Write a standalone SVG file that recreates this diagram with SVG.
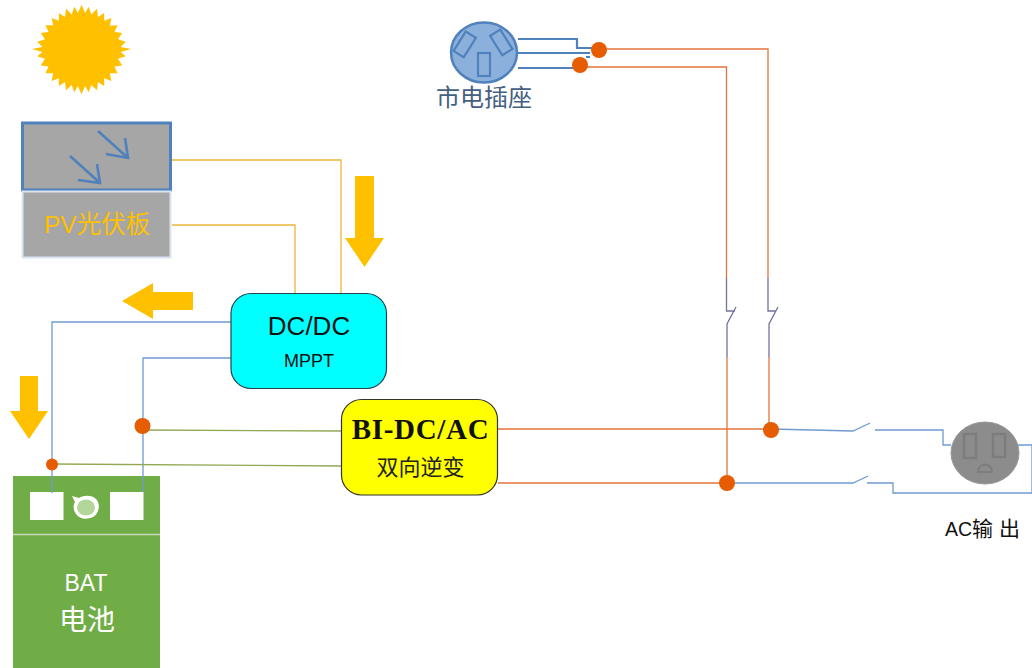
<svg xmlns="http://www.w3.org/2000/svg" width="1032" height="668" viewBox="0 0 1032 668">
<style>
.c{fill:none;stroke-width:1.3}
.y{stroke:#ecb53c}.b{stroke:#6f9bd1}.g{stroke:#93a855}.o{stroke:#e4733a}.v{stroke:#72729e}
.d{fill:#e65c00}
.arrow{fill:#ffc000}
.sans{font-family:"Liberation Sans","Noto Sans CJK SC",sans-serif}
.cjk{font-family:"Noto Sans CJK SC",sans-serif}
.grayp{fill:none;stroke:#7d7d7d;stroke-width:2.5}
.plug{fill:none;stroke:#4f81bd;stroke-width:2.2}
.ray{fill:none;stroke:#4f81bd;stroke-width:2.6}
</style>
<g id="sun"><polygon fill="#ffc000" transform="translate(81.500 49.500) scale(1.03) translate(-81 -49.500)" points="81,6 84.500,14 88,8 90.500,15.500 96,10 97,18 103,14 103,21.500 110,19 108.500,26.500 116,26 113,32.500 120.500,33.500 116.500,39.500 124,42 119,47 129,49 119,52 124,56 116.500,58.500 120.500,65 113,66 116,72.500 108.500,72.500 110,80 103,77.500 103,85 97,81 96,89 90.500,84 88,91 84.500,85 81,93 77.500,85 74,91 71.500,84 66,89 65,81 59,85 59,77.500 52,80 53.500,72.500 46,72.500 49,66 41.500,65 45.500,58.500 38,56 43,52 33,49 43,47 38,42 45.500,39.500 41.500,33.500 49,32.500 46,26 53.500,26 52,19 59,21.500 59,14 65,18 66,10 71.500,15.500 74,8 77.500,14"/></g>
<g id="battery">
<rect x="13" y="476" width="147" height="192" fill="#70ad47"/>
<path d="M13 534.500H160" stroke="#c5dcb5" stroke-width="1.500"/>
<rect x="30" y="492" width="33.500" height="28" fill="#fff"/>
<rect x="110" y="492" width="33.500" height="28" fill="#fff"/>
<path d="M72 496L79 498C84 495 92 495 96 499C101 504 99 514 93 517C87 520 79 519 76 514C73 510 73 505 75 502Z" fill="#fff"/>
<ellipse cx="86" cy="507.500" rx="9" ry="8" fill="#b3d69b"/>
<text class="sans" x="86" y="591" font-size="23" text-anchor="middle" fill="#fff">BAT</text>
<text class="cjk" x="87" y="630" font-size="28" text-anchor="middle" fill="#fff">电池</text>
</g>
<g id="connectors">
<path class="c y" d="M172 160H341V293M172 225H295V293"/>
<path class="c b" d="M231 322H52V493M231 358H143V492"/>
<path class="c g" d="M143 430L342 431M52 464L342 466"/>
<path class="c o" d="M498 429H771M498 483H727"/>
<path class="c o" d="M599 49H768V278M580 67H726.500V278"/>
<path class="c v" d="M768 278V311H776M778 307L769 324V357M726.500 278V311H735M736 307L727 324V357"/>
<path class="c o" d="M769 357V424M727 357V477"/>
<path class="c b" d="M771 429L853 431L870 423M875 430H943V445H951M1018 445H1032V493H893V483H867M727 483H853L868 476"/>
<path class="plug" d="M518 39H577V48H592M518 53H590M518 68H575M586 57H590"/>
</g>
<g id="outlet-mains">
<ellipse cx="484" cy="52.500" rx="33" ry="30" fill="#8cb0dc" stroke="#4f81bd" stroke-width="2.500"/>
<rect x="478" y="53" width="12" height="23" class="plug"/>
<rect x="459" y="33" width="12" height="23" class="plug" transform="rotate(32 465 44)"/>
<rect x="495" y="31" width="12" height="23" class="plug" transform="rotate(-32 501 42)"/>
<text class="cjk" x="436" y="106" font-size="24" fill="#44607f">市电插座</text>
</g>
<g id="pv-panel">
<rect x="22.500" y="123" width="148" height="67" fill="#a6a6a6" stroke="#4f81bd" stroke-width="3"/>
<rect x="22.500" y="191.500" width="148" height="66" fill="#a6a6a6" stroke="#dbe5f1" stroke-width="2"/>
<path class="ray" d="M98 131L128 158M125 138L128 158L106 154M70 156L100 183M97 164L100 183L78 180"/>
<text class="sans" x="44" y="233" font-size="24.500" fill="#ffc000">PV光伏板</text>
</g>
<g id="arrows">
<polygon class="arrow" points="355,176 374,176 374,238 384,238 364.500,267 345,238 355,238"/>
<polygon class="arrow" points="193,292 193,310 153,310 153,319 122,301 153,283 153,292"/>
<polygon class="arrow" points="20,376 38,376 38,411 48,411 29,439 10,411 20,411"/>
</g>
<g id="dcdc">
<rect x="231" y="293.500" width="155.500" height="95" rx="20" fill="#00ffff" stroke="#24434f" stroke-width="1.200"/>
<text class="sans" x="309" y="335" font-size="26" text-anchor="middle" fill="#111">DC/DC</text>
<text class="sans" x="309" y="367" font-size="18" text-anchor="middle" fill="#111">MPPT</text>
</g>
<g id="inverter">
<rect x="341.500" y="399.500" width="156" height="95.500" rx="20" fill="#ffff00" stroke="#33332a" stroke-width="1.200"/>
<text x="420.500" y="439" font-family="Liberation Serif,serif" font-weight="bold" font-size="29" letter-spacing="0.700" text-anchor="middle" fill="#111">BI-DC/AC</text>
<text class="cjk" x="420.500" y="475" font-size="22" text-anchor="middle" fill="#222">双向逆变</text>
</g>
<g id="outlet-ac">
<ellipse cx="985" cy="453" rx="34" ry="31" fill="#8c8c8c" stroke="#999" stroke-width="1"/>
<rect x="964" y="434" width="12" height="24" class="grayp"/>
<rect x="993" y="434" width="12" height="23" class="grayp"/>
<path d="M978 472C978 462 992 462 992 472Z" class="grayp" style="stroke-width:2"/>
<text class="sans" x="945" y="536" font-size="19.500" fill="#111">AC<tspan class="cjk" font-size="21">输</tspan><tspan class="cjk" font-size="21" dx="6">出</tspan></text>
</g>
<g id="junctions">
<circle class="d" cx="599" cy="50" r="8"/>
<circle class="d" cx="580" cy="65" r="8"/>
<circle class="d" cx="142.500" cy="426" r="8"/>
<circle class="d" cx="52" cy="464.500" r="6"/>
<circle class="d" cx="771" cy="430" r="8"/>
<circle class="d" cx="727" cy="483" r="8"/>
</g>
</svg>
